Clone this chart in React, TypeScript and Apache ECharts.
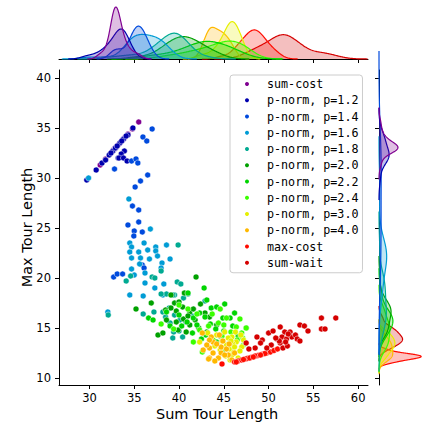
import React, { useEffect, useRef } from "react";
import * as echarts from "echarts";

const categories = [
  "sum-cost",
  "p-norm, p=1.2",
  "p-norm, p=1.4",
  "p-norm, p=1.6",
  "p-norm, p=1.8",
  "p-norm, p=2.0",
  "p-norm, p=2.2",
  "p-norm, p=2.4",
  "p-norm, p=3.0",
  "p-norm, p=4.0",
  "max-cost",
  "sum-wait",
];

const palette = [
  "#800091", "#0000ae", "#004add", "#009cd5", "#00aa92", "#00a100",
  "#00d500", "#3aff00", "#e6f000", "#ffb800", "#ff0b00", "#d50000",
];

const sumCost = [
  [31.2, 31.3], [31.8, 31.9], [32.3, 32.4], [32.5, 32.6], [32.6, 32.7], [32.7, 32.8],
  [32.7, 32.8], [32.8, 32.9], [32.8, 32.9], [32.9, 33.0], [32.9, 33.0], [33.0, 33.1],
  [33.0, 33.1], [33.1, 33.2], [33.1, 33.2], [33.2, 33.3], [33.3, 33.4], [33.4, 33.5],
  [33.6, 33.7], [33.8, 33.9], [34.0, 34.1], [34.3, 34.4], [34.8, 34.9], [35.5, 35.6],
];
const pNorm12 = [
  [29.7, 29.8], [30.75, 30.8], [31.4, 31.5], [31.8, 31.8], [32.2, 32.3], [32.6, 32.7],
  [32.9, 33.0], [33.2, 32.0], [33.4, 33.5], [33.8, 33.9], [34.3, 34.3], [34.85, 35.0],
  [33.1, 33.2], [32.4, 32.5], [33.6, 33.7], [34.1, 34.2], [33.9, 32.7], [33.55, 32.4],
  [33.3, 32.0], [33.8, 32.0], [34.2, 31.7],
];
const pNorm14 = [
  [35.97, 34.1], [37.0, 34.9], [36.4, 33.7], [34.7, 31.7], [35.2, 31.9], [35.4, 31.5],
  [32.8, 30.9], [36.5, 30.3], [35.7, 29.7], [35.1, 29.1], [34.8, 27.2], [35.5, 26.8],
  [35.5, 25.6], [34.3, 25.3], [35.0, 24.7], [35.9, 24.6], [34.95, 24.2], [32.7, 20.1],
  [33.1, 20.4], [33.7, 20.4], [35.9, 21.3], [36.1, 21.0],
];
const pNorm16 = [
  [29.9, 30.0], [34.4, 27.9], [36.8, 24.9], [36.1, 23.5], [34.5, 23.5], [34.7, 23.1],
  [37.4, 23.1], [38.6, 23.3], [37.4, 22.7], [34.5, 22.6], [35.5, 22.6], [36.5, 22.8],
  [34.7, 22.0], [35.7, 22.0], [36.7, 21.9], [37.6, 22.2], [39.0, 21.9], [38.1, 21.5],
  [35.6, 21.4], [34.7, 20.9], [38.0, 21.0], [35.0, 20.3], [36.2, 20.5], [36.2, 19.5],
  [37.3, 19.0], [38.3, 19.4], [34.5, 18.3], [36.0, 18.2], [38.2, 18.3], [32.05, 16.6],
];
const pNorm18 = [
  [34.1, 19.7], [34.6, 20.2], [37.0, 20.1], [38.0, 20.7], [39.8, 19.6], [40.2, 19.4],
  [38.6, 18.4], [39.5, 18.3], [40.5, 18.0], [41.0, 18.4], [37.3, 20.0], [38.0, 18.4],
  [39.3, 18.3], [32.1, 16.3], [37.2, 16.6], [38.2, 16.6], [38.5, 16.1], [39.5, 16.3],
  [40.1, 15.8], [40.75, 15.6], [39.0, 15.5], [39.4, 14.6], [40.0, 14.7], [39.3, 14.0],
  [40.4, 14.1], [42.9, 17.7], [38.9, 17.0], [39.9, 23.3], [36.0, 16.4], [41.5, 16.2],
];
const pNorm20 = [
  [41.9, 20.1], [36.9, 17.5], [35.2, 16.9], [39.1, 18.3], [39.5, 17.5], [40.0, 17.6],
  [39.1, 17.0], [38.5, 16.8], [39.7, 16.7], [40.4, 17.1], [41.2, 16.6], [41.6, 16.9],
  [38.6, 15.8], [39.7, 15.6], [40.5, 15.9], [41.2, 15.3], [41.8, 15.8], [37.65, 14.3],
  [38.2, 14.5], [39.9, 14.8], [42.9, 16.5], [43.4, 16.1], [44.2, 15.3], [43.1, 14.6],
  [40.6, 18.5], [41.0, 16.2], [42.2, 15.0], [40.8, 14.6], [44.6, 14.2], [42.4, 17.4],
];
const pNorm22 = [
  [42.8, 19.0], [41.0, 18.5], [43.1, 17.8], [43.6, 17.0], [44.2, 17.1], [45.1, 17.4],
  [42.3, 16.5], [42.9, 16.1], [41.6, 16.0], [40.9, 15.6], [42.0, 15.3], [43.5, 15.4],
  [44.1, 14.9], [44.9, 16.0], [45.7, 16.0], [46.2, 16.5], [47.5, 15.0], [36.6, 16.0],
  [37.1, 15.8], [39.0, 15.2], [40.3, 15.2], [43.0, 14.3], [45.0, 14.7], [46.0, 15.2],
  [41.5, 14.5], [42.5, 13.9], [44.2, 13.6], [38.6, 16.6], [46.6, 14.2], [40.0, 16.3],
];
const pNorm24 = [
  [45.3, 16.0], [46.4, 15.1], [47.5, 15.0], [47.0, 14.5], [47.1, 14.0], [47.2, 13.3],
  [47.4, 13.5], [42.3, 14.8], [43.3, 15.2], [44.4, 15.5], [45.8, 14.6], [44.8, 14.2],
  [43.8, 13.8], [45.5, 13.4], [46.5, 13.8], [41.0, 16.9], [40.0, 17.3], [38.0, 15.4],
  [42.0, 16.4], [43.7, 16.4], [44.6, 16.9], [41.6, 13.6], [46.0, 12.9], [44.9, 12.8],
  [39.4, 14.9], [42.6, 12.6], [45.0, 15.3], [46.8, 15.9],
];
const pNorm30 = [
  [45.1, 14.6], [45.9, 14.1], [46.4, 13.6], [47.0, 13.1], [45.3, 13.3], [44.6, 12.8],
  [46.1, 12.6], [46.8, 12.7], [47.2, 13.8], [42.3, 13.6], [44.2, 14.3], [46.6, 12.0],
  [45.6, 12.9], [46.0, 13.4], [45.5, 14.0], [44.8, 13.7], [45.9, 12.3], [46.3, 14.6],
  [44.0, 13.2], [45.7, 11.8], [43.2, 14.5], [46.9, 14.3], [45.2, 12.2], [46.2, 13.1],
  [45.8, 13.7],
];
const pNorm40 = [
  [43.6, 14.1], [43.8, 13.6], [43.4, 13.0], [43.4, 12.0], [44.7, 12.5], [45.5, 12.3],
  [45.9, 11.8], [42.7, 12.8], [43.4, 13.8], [43.8, 12.5], [43.3, 11.9], [45.1, 12.3],
  [44.7, 13.1], [44.2, 13.4], [44.9, 13.7], [45.3, 12.9], [44.4, 12.0], [46.2, 12.5],
  [42.6, 14.5], [44.0, 11.7], [45.6, 13.4], [44.5, 14.3], [43.1, 13.3],
];
const maxCost = [
  [44.8, 11.4], [46.2, 11.6], [46.6, 11.7], [47.0, 11.8], [47.4, 11.9], [47.8, 12.0],
  [48.2, 12.1], [48.6, 12.2], [49.0, 12.3], [49.4, 12.4], [49.8, 12.5], [50.2, 12.6],
  [50.6, 12.75], [51.0, 12.9], [46.4, 11.6], [47.6, 11.95], [48.4, 12.15], [49.2, 12.35],
  [49.6, 12.45], [48.8, 12.25], [47.2, 11.85], [48.0, 12.05], [48.5, 12.2], [47.9, 12.0],
  [49.1, 12.3], [48.3, 12.1],
];
const sumWait = [
  [48.7, 14.1], [49.3, 13.8], [49.1, 13.5], [50.0, 14.5], [50.5, 14.7], [51.3, 15.1],
  [51.8, 14.6], [51.5, 14.1], [52.4, 14.6], [52.6, 14.1], [53.0, 14.3], [53.2, 13.9],
  [53.5, 13.7], [53.5, 15.3], [54.0, 15.2], [54.4, 14.7], [55.9, 16.0], [57.5, 16.0],
  [55.9, 14.9], [56.3, 14.9], [52.0, 13.9], [50.9, 13.9], [50.3, 13.3], [51.3, 13.5],
  [51.6, 13.0], [52.1, 13.2], [49.8, 13.0], [48.5, 13.0], [47.5, 13.5], [47.8, 12.9],
  [51.2, 13.7], [52.2, 14.4], [50.8, 14.0], [51.9, 13.6],
];

const groups = [
  sumCost, pNorm12, pNorm14, pNorm16, pNorm18, pNorm20,
  pNorm22, pNorm24, pNorm30, pNorm40, maxCost, sumWait,
];

const xTicks = [30, 35, 40, 45, 50, 55, 60];
const yTicks = [10, 15, 20, 25, 30, 35, 40];
const X_MIN = 26.6, X_MAX = 61.1, Y_MIN = 9.3, Y_MAX = 40.8;

function kde(values: number[], total: number): number[][] {
  const m = values.length;
  const mean = values.reduce((a, b) => a + b, 0) / m;
  const variance = values.reduce((a, b) => a + (b - mean) * (b - mean), 0) / (m - 1);
  const bw = Math.sqrt(variance) * Math.pow(m, -1 / 5);
  const lo = Math.min(...values) - 3 * bw;
  const hi = Math.max(...values) + 3 * bw;
  const out: number[][] = [];
  const G = 200;
  for (let i = 0; i < G; i++) {
    const x = lo + ((hi - lo) * i) / (G - 1);
    let s = 0;
    for (const v of values) {
      const z = (x - v) / bw;
      s += Math.exp(-0.5 * z * z);
    }
    out.push([x, (s / (m * bw * Math.sqrt(2 * Math.PI))) * (m / total)]);
  }
  return out;
}

function rgba(hex: string, a: number) {
  const r = parseInt(hex.slice(1, 3), 16);
  const g = parseInt(hex.slice(3, 5), 16);
  const b = parseInt(hex.slice(5, 7), 16);
  return `rgba(${r},${g},${b},${a})`;
}

export default function App() {
  const ref = useRef<HTMLDivElement>(null);
  useEffect(() => {
    if (!ref.current) return;
    const chart = echarts.init(ref.current, undefined, { renderer: "svg" });
    const total = groups.reduce((a, g) => a + g.length, 0);
    const topCurves = groups.map((g) => kde(g.map((p) => p[0]), total));
    const rightCurves = groups.map((g) => kde(g.map((p) => p[1]), total));
    const topMax = Math.max(...topCurves.flat().map((p) => p[1]));
    const rightMax = Math.max(...rightCurves.flat().map((p) => p[1]));

    const axisColor = "#000";
    const font = "DejaVu Sans";

    const scatterSeries = groups.map((g, i) => ({
      type: "scatter",
      name: categories[i],
      xAxisIndex: 0,
      yAxisIndex: 0,
      data: g,
      symbol: "circle",
      symbolSize: 6,
      itemStyle: { color: palette[i], borderColor: "#fff", borderWidth: 0.5, opacity: 1 },
      z: 3,
    }));

    const order = groups.map((_, i) => groups.length - 1 - i);
    const topSeries = order.map((i, k) => ({
      type: "custom",
      name: "kde-top-" + i,
      xAxisIndex: 1,
      yAxisIndex: 1,
      silent: true,
      z: 2 + k * 0.01,
      data: [[45, 0]],
      encode: { x: 0, y: 1 },
      renderItem: (params: any, api: any) => {
        const c = topCurves[i];
        const pts = c.map((p) => api.coord([p[0], p[1]]));
        const b0 = api.coord([c[0][0], 0]);
        const b1 = api.coord([c[c.length - 1][0], 0]);
        return {
          type: "group",
          children: [
            { type: "polygon", shape: { points: [...pts, b1, b0] }, style: { fill: rgba(palette[i], 0.25), stroke: null } },
            { type: "polyline", shape: { points: pts }, style: { stroke: palette[i], lineWidth: 1.2, fill: null } },
          ],
        };
      },
    }));
    const rightSeries = order.map((i, k) => ({
      type: "custom",
      name: "kde-right-" + i,
      xAxisIndex: 2,
      yAxisIndex: 2,
      silent: true,
      z: 2 + k * 0.01,
      data: [[0, 25]],
      encode: { x: 0, y: 1 },
      renderItem: (params: any, api: any) => {
        const c = rightCurves[i];
        const pts = c.map((p) => api.coord([p[1], p[0]]));
        const b0 = api.coord([0, c[0][0]]);
        const b1 = api.coord([0, c[c.length - 1][0]]);
        return {
          type: "group",
          children: [
            { type: "polygon", shape: { points: [...pts, b1, b0] }, style: { fill: rgba(palette[i], 0.25), stroke: null } },
            { type: "polyline", shape: { points: pts }, style: { stroke: palette[i], lineWidth: 1.2, fill: null } },
          ],
        };
      },
    }));

    const tickAxisCommon = {
      axisLine: { show: true, onZero: false, lineStyle: { color: axisColor, width: 1 } },
      splitLine: { show: false },
    };

    chart.setOption({
      animation: false,
      backgroundColor: "#fff",
      grid: [
        { left: 59, top: 70, width: 309, height: 315 },
        { left: 59, top: 0, width: 309, height: 59 },
        { left: 379, top: 70, width: 45, height: 315 },
      ],
      xAxis: [
        {
          gridIndex: 0, type: "value", min: X_MIN, max: X_MAX,
          ...tickAxisCommon,
          axisTick: { show: true, length: 4, customValues: xTicks, lineStyle: { color: axisColor } },
          axisLabel: { show: true, customValues: xTicks, color: "#000", fontSize: 11.5, fontFamily: font, margin: 7 },
        },
        {
          gridIndex: 1, type: "value", min: X_MIN, max: X_MAX,
          ...tickAxisCommon,
          axisTick: { show: true, length: 4, customValues: xTicks, lineStyle: { color: axisColor } },
          axisLabel: { show: false, customValues: xTicks },
        },
        { gridIndex: 2, type: "value", min: 0, max: rightMax * 1.02, show: false },
      ],
      yAxis: [
        {
          gridIndex: 0, type: "value", min: Y_MIN, max: Y_MAX,
          ...tickAxisCommon,
          axisTick: { show: true, length: 4, customValues: yTicks, lineStyle: { color: axisColor } },
          axisLabel: { show: true, customValues: yTicks, color: "#000", fontSize: 11.5, fontFamily: font, margin: 8 },
        },
        { gridIndex: 1, type: "value", min: 0, max: (topMax * 59) / 52, show: false },
        {
          gridIndex: 2, type: "value", min: Y_MIN, max: Y_MAX,
          ...tickAxisCommon,
          axisTick: { show: true, length: 4, customValues: yTicks, lineStyle: { color: axisColor } },
          axisLabel: { show: false, customValues: yTicks },
        },
      ],
      legend: {
        data: categories,
        orient: "vertical",
        left: 230,
        top: 75,
        icon: "circle",
        itemWidth: 6,
        itemHeight: 6,
        itemGap: 2.25,
        selectedMode: false,
        padding: [2, 4, 3, 13],
        backgroundColor: "rgba(255,255,255,0.8)",
        borderColor: "#cccccc",
        borderWidth: 1,
        borderRadius: 3,
        textStyle: {
          fontFamily: "DejaVu Sans Mono", fontSize: 11.7, color: "#000",
          lineHeight: 14, padding: [0, 0, 0, 12],
        },
      },
      graphic: [
        {
          type: "text", x: 217, y: 414,
          style: { text: "Sum Tour Length", font: `14.5px ${font}`, fill: "#000", align: "center", verticalAlign: "middle" },
        },
        {
          type: "text", x: 27, y: 227.5, rotation: Math.PI / 2,
          style: { text: "Max Tour Length", font: `14.5px ${font}`, fill: "#000", align: "center", verticalAlign: "middle" },
        },
      ],
      series: [...topSeries, ...rightSeries, ...scatterSeries],
    });
    return () => chart.dispose();
  }, []);
  return (
    <div
      ref={ref}
      style={{ position: "fixed", left: 0, top: 0, width: 422, height: 428 }}
    />
  );
}
